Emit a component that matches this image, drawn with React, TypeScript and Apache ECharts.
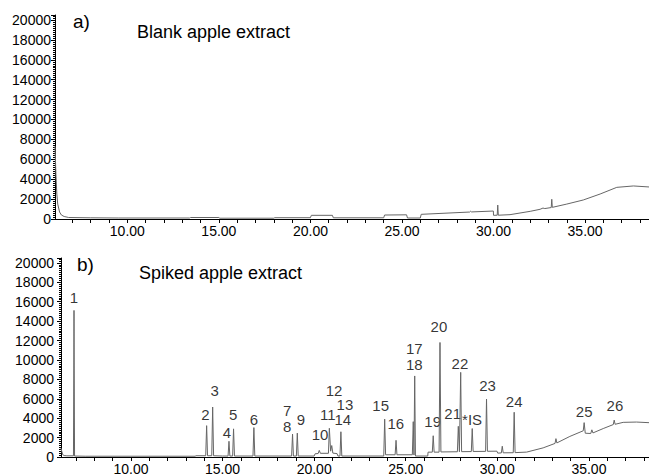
import React, { useEffect, useRef } from "react";
import * as echarts from "echarts";

// Retention time (min) / abundance points of the blank trace (panel a)
const blankTrace: [number, number][] = [
  [6.05, 7300], [6.1, 4500], [6.15, 2500], [6.2, 1500], [6.3, 700], [6.4, 400], [6.55, 250],
  [6.8, 150], [8, 120], [9.5, 100], [13.4, 100], [13.45, 150], [15.0, 150], [15.05, 80],
  [18.0, 80], [18.05, 130], [20.0, 130], [20.05, 370], [21.2, 370], [21.25, 120], [24.0, 120],
  [24.05, 400], [25.25, 420], [25.3, 100], [26.0, 100], [26.05, 470], [28.7, 700], [28.75, 780],
  [28.8, 710], [29.99, 800], [30.0, 370], [30.2, 380], [30.23, 1400], [30.26, 380], [30.9, 435],
  [32.0, 770], [32.54, 975], [32.7, 1100], [32.8, 1050], [33.15, 1150], [33.18, 1980],
  [33.21, 1170], [34.0, 1500], [34.9, 1910], [35.82, 2510], [36.73, 3180], [37.64, 3320],
  [38.49, 3220],
];

// Retention time (min) / abundance points of the spiked trace (panel b)
const spikedTrace: [number, number][] = [
  [6.18, 900], [6.22, 600], [6.27, 250], [6.35, 150], [6.5, 120], [6.86, 120], [6.89, 15100],
  [6.92, 100], [7.5, 80], [10, 80], [13.5, 80], [13.55, 130], [14.08, 130], [14.13, 3230],
  [14.18, 130], [14.41, 130], [14.46, 5150], [14.51, 130], [15.0, 100], [15.3, 100],
  [15.35, 1620], [15.4, 100], [15.55, 100], [15.6, 2900], [15.65, 100], [16.66, 100],
  [16.71, 3030], [16.76, 100], [18.77, 100], [18.82, 2360], [18.87, 100], [19.03, 100],
  [19.08, 2460], [19.13, 100], [20.0, 100], [20.05, 330], [20.22, 360], [20.28, 680],
  [20.34, 380], [20.78, 380], [20.83, 2960], [20.9, 600], [20.96, 1180], [21.02, 400],
  [21.25, 350], [21.3, 100], [21.41, 100], [21.46, 2600], [21.51, 100], [23.8, 100],
  [23.85, 3900], [23.9, 230], [24.42, 230], [24.47, 1720], [24.52, 230], [25.36, 230],
  [25.41, 3640], [25.45, 200], [25.49, 8350], [25.53, 100], [26.2, 100], [26.22, 500],
  [26.45, 500], [26.5, 2190], [26.55, 500], [26.82, 500], [26.87, 11800], [26.92, 520],
  [27.82, 540], [27.87, 3160], [27.93, 540], [28.0, 8720], [28.05, 550], [28.58, 560],
  [28.63, 2930], [28.68, 570], [29.36, 580], [29.41, 5960], [29.46, 590], [29.98, 600],
  [30.02, 400], [30.22, 420], [30.27, 1110], [30.32, 430], [30.87, 440], [30.92, 4610],
  [30.97, 450], [31.6, 505], [32.5, 940], [33.15, 1400], [33.2, 1890], [33.25, 1450],
  [33.96, 2120], [34.69, 2700], [34.74, 3540], [34.8, 2450], [35.1, 2420], [35.16, 2800],
  [35.22, 2480], [35.78, 2930], [36.33, 3340], [36.38, 3800], [36.43, 3370], [36.87, 3570],
  [37.6, 3600], [38.28, 3535],
];

// Peak annotations of panel b: name, retention time, abundance at the label
const peakNames = ["1", "2", "3", "4", "5", "6", "7", "8", "9", "10", "11", "12", "13", "14",
  "15", "16", "17", "18", "19", "20", "21", "*IS", "22", "23", "24", "25", "26"];
const peakTimes = [6.89, 14.06, 14.57, 15.24, 15.58, 16.71, 18.53, 18.53, 19.28, 20.32, 20.74,
  21.09, 21.68, 21.56, 23.63, 24.46, 25.47, 25.47, 26.47, 26.81, 27.56, 28.62, 27.96, 29.47,
  30.92, 34.74, 36.42];
const peakLabelLevels = [16460, 4409, 6838, 2525, 4343, 3838, 4817, 3131, 3838, 2323, 4374,
  6900, 5424, 3838, 5323, 3434, 11211, 9528, 3704, 13401, 4478, 3868, 9663, 7404, 5757, 4646,
  5323];

const yMax = 20500;
const yInterval = 2000;
const yMinorInterval = 200;
const lastYLabel = 20000;
const xMinorTicks = [7, 8, 9, 10, 11, 12, 13, 14, 15, 16, 17, 18, 19, 20, 21, 22, 23, 24, 25, 26,
  27, 28, 29, 30, 31, 32, 33, 34, 35, 36, 37, 38];
const xLabels = [10, 15, 20, 25, 30, 35];

const FONT = "Liberation Sans";

export default function App() {
  const ref = useRef<HTMLDivElement>(null);
  useEffect(() => {
    if (!ref.current) return;
    const chart = echarts.init(ref.current, undefined, { renderer: "svg" });

    const xAxisBase = (gridIndex: number, min: number, max: number) => ({
      type: "value",
      gridIndex,
      min,
      max,
      axisLine: { show: true, onZero: false, lineStyle: { color: "#000", width: 1 } },
      axisTick: { show: true, length: 4, customValues: xMinorTicks, lineStyle: { color: "#000" } },
      axisLabel: {
        show: true,
        customValues: xLabels,
        margin: 5,
        fontFamily: FONT,
        fontSize: 14,
        color: "#000",
        formatter: (v: number) => v.toFixed(2),
      },
      splitLine: { show: false },
    });
    const yAxisMain = (gridIndex: number, margin: number) => ({
      type: "value",
      gridIndex,
      position: "left",
      min: 0,
      max: yMax,
      interval: yInterval,
      axisLine: { show: true, lineStyle: { color: "#000", width: 1 } },
      axisTick: { show: true, length: 4, lineStyle: { color: "#000" } },
      axisLabel: {
        show: true,
        margin,
        padding: [3, 0, 0, 0],
        fontFamily: FONT,
        fontSize: 14,
        color: "#000",
        formatter: (v: number) => (v > lastYLabel ? "" : String(v)),
      },
      splitLine: { show: false },
    });
    const yAxisMinor = (gridIndex: number) => ({
      type: "value",
      gridIndex,
      position: "left",
      offset: 0,
      min: 0,
      max: yMax,
      interval: yMinorInterval,
      axisLine: { show: false },
      axisTick: { show: true, length: 2, lineStyle: { color: "#000" } },
      axisLabel: { show: false },
      splitLine: { show: false },
    });

    chart.setOption({
      animation: false,
      backgroundColor: "#fff",
      grid: [
        { left: 55, width: 594, top: 15, height: 204 },
        { left: 61, width: 588, top: 258, height: 203 },
      ],
      xAxis: [xAxisBase(0, 6.05, 38.49), xAxisBase(1, 6.18, 38.28)],
      yAxis: [yAxisMain(0, 4), yAxisMain(1, 7), yAxisMinor(0), yAxisMinor(1)],
      graphic: [
        { type: "text", left: 73, top: 12, style: { text: "a)", fontFamily: FONT, fontSize: 19, fill: "#000" } },
        { type: "text", left: 137, top: 23, style: { text: "Blank apple extract", fontFamily: FONT, fontSize: 18, fill: "#000" } },
        { type: "text", left: 77, top: 255, style: { text: "b)", fontFamily: FONT, fontSize: 19, fill: "#000" } },
        { type: "text", left: 139, top: 264, style: { text: "Spiked apple extract", fontFamily: FONT, fontSize: 18, fill: "#000" } },
      ],
      series: [
        {
          type: "line",
          xAxisIndex: 0,
          yAxisIndex: 0,
          data: blankTrace,
          showSymbol: false,
          symbol: "none",
          lineStyle: { color: "#666", width: 1 },
          silent: true,
        },
        {
          type: "line",
          xAxisIndex: 1,
          yAxisIndex: 1,
          data: spikedTrace,
          showSymbol: false,
          symbol: "none",
          lineStyle: { color: "#666", width: 1 },
          silent: true,
        },
        {
          type: "scatter",
          xAxisIndex: 1,
          yAxisIndex: 1,
          symbolSize: 1,
          itemStyle: { color: "rgba(0,0,0,0)" },
          silent: true,
          data: peakNames.map((n, i) => ({ name: n, value: [peakTimes[i], peakLabelLevels[i]] })),
          label: {
            show: true,
            position: "inside",
            formatter: (p: any) => p.name,
            fontFamily: FONT,
            fontSize: 15,
            lineHeight: 14,
            color: "#000",
          },
        },
      ],
    });
    return () => chart.dispose();
  }, []);
  return (
    <div
      ref={ref}
      style={{ position: "fixed", left: 0, top: 0, width: 649, height: 476, background: "#fff" }}
    />
  );
}
